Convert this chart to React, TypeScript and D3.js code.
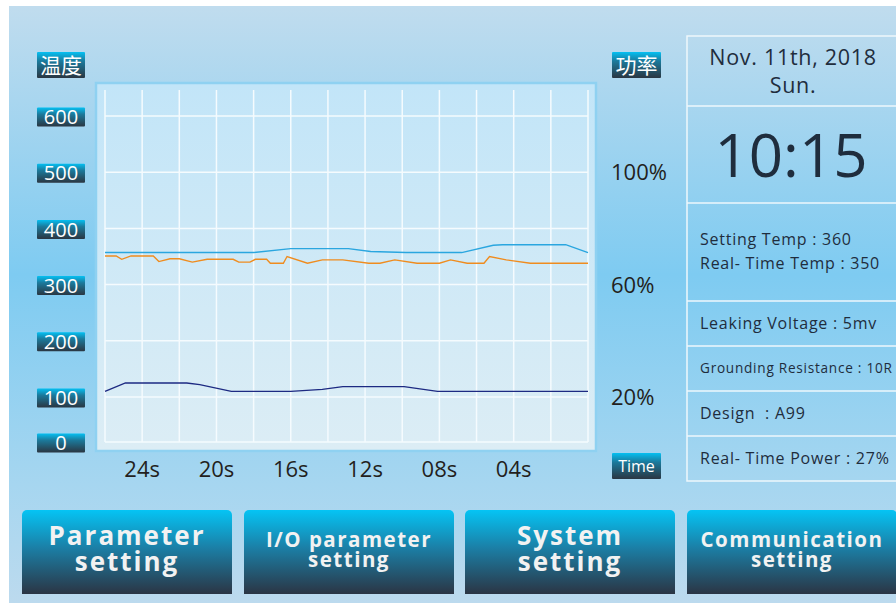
import React from 'react';
import {scaleLinear, line, curveLinear} from 'd3';

// axis labels
const tempTicks = [0, 100, 200, 300, 400, 500, 600];
const powerTicks = [20, 60, 100];
const timeTicks = [24, 20, 16, 12, 8, 4];

// [seconds ago, value]
const settingTemp: [number, number][] = [
	[26, 357], [18, 357], [16, 364], [12.9, 364], [11.7, 359], [9.8, 357],
	[6.8, 357], [5.1, 370], [4.6, 371], [1.2, 371], [0, 357]
];

const realTemp: [number, number][] = [
	[26, 351], [25.4, 351], [25.1, 345], [24.6, 351], [23.4, 351], [23.1, 341],
	[22.5, 346], [22, 346], [21.3, 340], [20.5, 345], [19.1, 345], [18.8, 340],
	[18.2, 340], [17.9, 345], [17.3, 345], [17.1, 338], [16.4, 338], [16.2, 350],
	[15.1, 338], [14.3, 344], [13.2, 344], [11.8, 338], [11.2, 338], [10.4, 344],
	[9.2, 338], [8, 338], [7.4, 344], [6.5, 338], [5.6, 338], [5.3, 350],
	[4.4, 344], [3.1, 338], [0, 338]
];

// power in %
const power: [number, number][] = [
	[26, 22], [24.9, 25], [21.6, 25], [20.9, 24.4], [19.2, 22], [16, 22],
	[14.3, 22.7], [13.2, 23.7], [9.9, 23.7], [8.1, 22], [0, 22]
];

const dateLines = ['Nov. 11th, 2018', 'Sun.'];
const clock = '10:15';
const infoRows = [
	{lines: ['Setting Temp : 360', 'Real- Time Temp : 350'], size: 16},
	{lines: ['Leaking Voltage : 5mv'], size: 16},
	{lines: ['Grounding Resistance : 10R'], size: 13.6},
	{lines: ['Design  : A99'], size: 16},
	{lines: ['Real- Time Power : 27%'], size: 16}
];
const buttons = [
	{lines: ['Parameter', 'setting'], big: true},
	{lines: ['I/O parameter', 'setting'], big: false},
	{lines: ['System', 'setting'], big: true},
	{lines: ['Communication', 'setting'], big: false}
];

const W = 896, H = 603;
const font = '"Open Sans", "DejaVu Sans", sans-serif';
const cjk = '"Noto Sans CJK SC", sans-serif';

// scales (the designer's grid: 0-100 band is narrower than the rest)
const x = scaleLinear().domain([26, 0]).range([105, 588]);
const y = scaleLinear().domain([0, 100, 600]).range([442, 397, 116]);
const yPow = scaleLinear().domain([0, 20, 120]).range([442, 397, 116]);

const tempLine = line<[number, number]>()
	.x(d => x(d[0]))
	.y(d => y(d[1]))
	.curve(curveLinear);

const powLine = line<[number, number]>()
	.x(d => x(d[0]))
	.y(d => yPow(d[1]));

const Badge = ({bx, by, w, h, label, size, family}: any) => (
	<g>
		<rect x={bx} y={by} width={w} height={h} fill='url(#badge)' rx={1}/>
		<text x={bx + w / 2} y={by + h / 2} dy='0.36em' textAnchor='middle'
			fill='#fff' fontSize={size} fontFamily={family || font}>{label}</text>
	</g>
);

export default function App(){

	const gridX = x.ticks(13);
	const panelLines = [106, 203, 301, 346, 391, 436];
	const rowTops = [203, 301, 346, 391, 436];
	const btnX = [22, 244, 465, 687];
	const btnW = [210, 210, 210, 210];

	return (
		<svg width={W} height={H} style={{position:'absolute', left:0, top:0}}>
			<defs>
				<linearGradient id='bg' x1='0' y1='0' x2='0' y2='1'>
					<stop offset='0' stopColor='#c0dcee'/>
					<stop offset='0.45' stopColor='#7ecbf1'/>
					<stop offset='0.8' stopColor='#a6d6f0'/>
					<stop offset='1' stopColor='#bcdaee'/>
				</linearGradient>
				<linearGradient id='plot' x1='0' y1='0' x2='0' y2='1'>
					<stop offset='0' stopColor='#c2e5f8'/>
					<stop offset='1' stopColor='#dcedf5'/>
				</linearGradient>
				<linearGradient id='badge' x1='0' y1='0' x2='0' y2='1'>
					<stop offset='0' stopColor='#04c0f2'/>
					<stop offset='0.35' stopColor='#1b7a9c'/>
					<stop offset='1' stopColor='#2a3642'/>
				</linearGradient>
				<linearGradient id='btn' x1='0' y1='0' x2='0' y2='1'>
					<stop offset='0' stopColor='#05c4f4'/>
					<stop offset='0.45' stopColor='#1b7fa6'/>
					<stop offset='1' stopColor='#2b3544'/>
				</linearGradient>
			</defs>

			<rect width={W} height={H} fill='#fff'/>
			<rect x={9} y={6} width={W - 9} height={H - 6} fill='url(#bg)'/>

			{/* plot box */}
			<rect x={96} y={83} width={500} height={368} fill='url(#plot)'
				stroke='#8fd1f1' strokeWidth={2.5}/>

			{gridX.map(t =>
				<line key={'gx' + t} x1={x(t)} x2={x(t)} y1={90} y2={442}
					stroke='#f5fbfe' strokeWidth={1.5}/>
			)}
			{tempTicks.map(v =>
				<line key={'gy' + v} x1={105} x2={588} y1={y(v)} y2={y(v)}
					stroke='#f5fbfe' strokeWidth={1.5}/>
			)}

			<path d={tempLine(settingTemp) || ''} fill='none' stroke='#2aa6df' strokeWidth={1.4}/>
			<path d={tempLine(realTemp) || ''} fill='none' stroke='#ef8c1f' strokeWidth={1.4}/>
			<path d={powLine(power) || ''} fill='none' stroke='#1d2a82' strokeWidth={1.4}/>

			{/* left axis */}
			<Badge bx={37} by={52} w={48} h={26} label='温度' size={21} family={cjk}/>
			{tempTicks.map(v =>
				<Badge key={'tl' + v} bx={37} by={y(v) - 8.5} w={48} h={19} label={v} size={20}/>
			)}

			{/* right axis */}
			<Badge bx={612} by={52} w={49} h={26} label='功率' size={21} family={cjk}/>
			{powerTicks.map(p =>
				<text key={'pl' + p} x={611} y={yPow(p)} dy='0.36em' fontSize={22}
					fontFamily={font} fill='#231f20'>{p}%</text>
			)}
			<Badge bx={612} by={453} w={49} h={26} label='Time' size={16}/>

			{/* time axis */}
			{timeTicks.map(t =>
				<text key={'xl' + t} x={x(t)} y={477} textAnchor='middle' fontSize={22}
					fontFamily={font} fill='#231f20'>{String(t).padStart(2, '0')}s</text>
			)}

			{/* right info panel */}
			<rect x={687} y={36} width={230} height={445} fill='none'
				stroke='#eef7fc' strokeWidth={1.5}/>
			{panelLines.map(py =>
				<line key={'pn' + py} x1={687} x2={W} y1={py} y2={py}
					stroke='#eef7fc' strokeWidth={1.5}/>
			)}
			<text x={793} y={65} textAnchor='middle' fontSize={21.5} letterSpacing={0.7}
				fontFamily={font} fill='#1f2d3d'>{dateLines[0]}</text>
			<text x={793} y={93} textAnchor='middle' fontSize={21.5} letterSpacing={0.7}
				fontFamily={font} fill='#1f2d3d'>{dateLines[1]}</text>
			<text x={791} y={177} textAnchor='middle' fontSize={60}
				fontFamily={font} fill='#1f2d3d'>{clock}</text>
			{infoRows.map((r, i) => {
				const top = rowTops[i];
				const bottom = i < rowTops.length - 1 ? rowTops[i + 1] : 481;
				const first = r.lines.length > 1 ? top + 42 : (top + bottom) / 2 + r.size * 0.36;
				return r.lines.map((s, j) =>
					<text key={'ir' + i + j} x={700} y={first + j * 23.5} fontSize={r.size}
						letterSpacing={0.75} fontFamily={font} fill='#1f2d3d'
						style={{whiteSpace:'pre'}}>{s}</text>
				);
			})}

			{/* buttons: two-line labels as one text element */}
			{buttons.map((b, i) => {
				const cx = btnX[i] + btnW[i] / 2;
				const size = b.big ? 26 : 20.5;
				const y0 = b.big ? 545 : 547;
				const gap = b.big ? 25.5 : 20;
				return (
					<g key={'b' + i}>
						<path d={`M${btnX[i]},594 V515 a5,5 0 0 1 5,-5 H${btnX[i] + btnW[i] - 5} a5,5 0 0 1 5,5 V594 Z`}
							fill='url(#btn)'/>
						<text x={cx} y={y0} textAnchor='middle' fontSize={size}
							fontWeight='bold' letterSpacing={b.big ? 2 : 1.5}
							fontFamily={font} fill='#f2f2f2'>
							{b.lines.map((s, j) =>
								<tspan key={j} x={cx} dy={j === 0 ? 0 : gap}>{s}</tspan>
							)}
						</text>
					</g>
				);
			})}
		</svg>
	);
}
